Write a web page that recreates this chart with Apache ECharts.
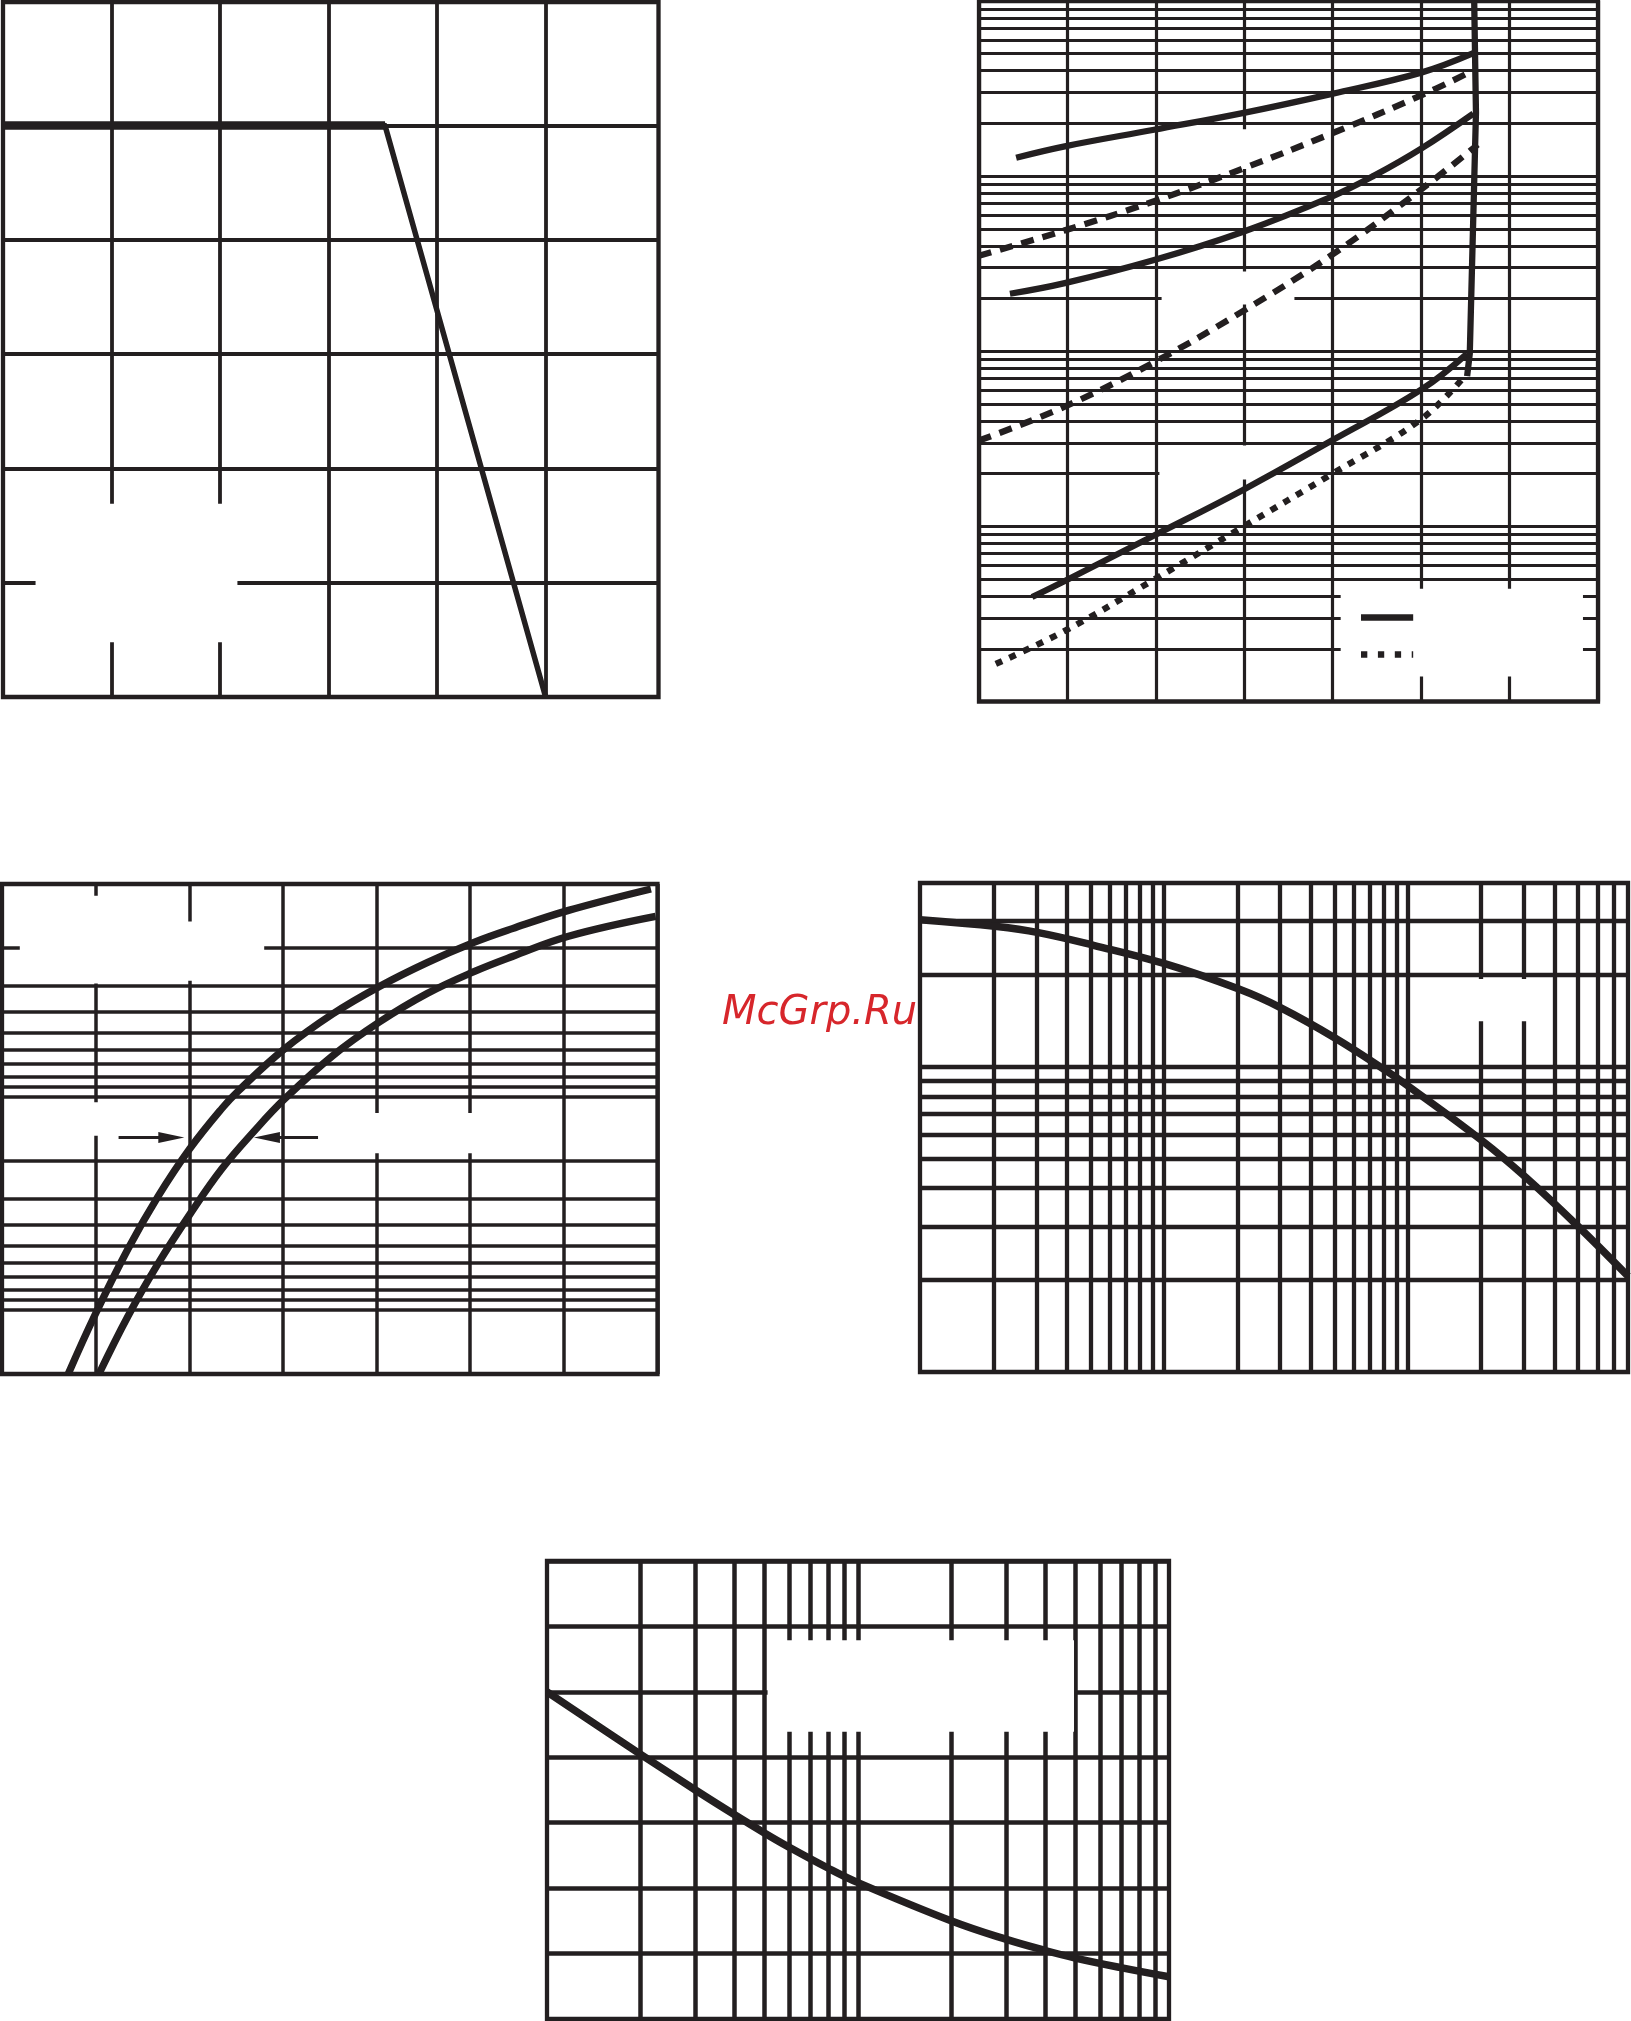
<!DOCTYPE html>
<html>
<head>
<meta charset="utf-8">
<script src="https://cdn.jsdelivr.net/npm/echarts@6/dist/echarts.min.js"></script>
<style>html,body{margin:0;padding:0;background:#fff}#c{width:1631px;height:2021px}</style>
</head>
<body>
<div id="c"></div>
<script>
// ---------------- DATA ----------------
// Chart 1 (top-left): linear x 0..151, linear y 0..60.8
const c1Curve  = [[0, 50], [88, 50], [125, 0]];
const c1XLines = [25, 50, 75, 100, 125];
const c1YLines = [10, 20, 30, 40, 50];

// Chart 2 (top-right): linear x 0..7, log y 1..10000
const c2Solid1  = [[0.42, 1274], [0.97, 1480], [1.98, 1840], [2.98, 2290], [3.99, 2950], [5.0, 3900], [5.59, 5035]];
const c2Dashed1 = [[0, 351], [0.97, 490], [1.98, 719], [2.98, 1102], [3.99, 1754], [5.0, 2891], [5.5, 3811]];
const c2Solid2  = [[0.35, 213], [0.97, 245], [1.98, 332], [2.98, 480], [3.99, 764], [4.47, 1007], [5.0, 1435], [5.59, 2275]];
const c2Dashed2 = [[0, 30.9], [0.97, 48.3], [1.98, 86.5], [2.98, 169], [3.99, 355], [5.0, 839], [5.64, 1514]];
const c2Solid3  = [[0.6, 3.95], [0.97, 4.88], [1.98, 8.87], [2.98, 16.1], [3.99, 30.9], [5.0, 60.3], [5.52, 97]];
const c2Dotted  = [[0.19, 1.64], [0.97, 2.53], [1.98, 4.97], [2.98, 9.91], [3.99, 19.9], [5.0, 40.9], [5.5, 72.8]];
const c2Limit   = [[5.60, 10000], [5.62, 2300], [5.55, 97], [5.52, 72]];
const c2YLines  = [2,3,4,5,6,7,8,9,10,20,30,40,50,60,70,80,90,100,200,300,400,500,600,700,800,900,1000,2000,3000,4000,5000,6000,7000,8000,9000];

// Chart 3 (middle-left): linear x 0..7, inverted log y 1..200
const c3CurveA = [[0.707, 200], [0.99, 106.3], [1.345, 51.8], [1.665, 29.4], [2.006, 17.5], [2.35, 11.3], [2.53, 9.31], [3.01, 5.98], [3.53, 4.08], [4.03, 3.03], [4.54, 2.34], [5.04, 1.88], [5.45, 1.62], [6.05, 1.33], [6.93, 1.055]];
const c3CurveB = [[1.035, 200], [1.345, 107], [1.665, 60.8], [2.006, 35.6], [2.35, 21.7], [2.71, 14.2], [3.01, 10.3], [3.53, 6.41], [4.03, 4.45], [4.54, 3.27], [5.04, 2.58], [5.45, 2.19], [6.05, 1.76], [6.98, 1.42]];
const c3YLines = [2,3,4,5,6,7,8,9,10,20,30,40,50,60,70,80,90,100];

// Chart 4 (middle-right): log x 1..800, log y 1..40
const c4Curve  = [[1, 30.3], [2.07, 28.8], [3.06, 27.5], [5.15, 25.0], [10, 21.8], [20.3, 17.97], [30.2, 15.6], [50.1, 12.45], [82.6, 9.64], [100, 8.67], [201, 5.74], [303, 4.36], [493, 3.03], [800, 2.06]];
const c4XLines = [2,3,4,5,6,7,8,9,10,20,30,40,50,60,70,80,90,100,200,300,400,500,600,700];
const c4YLines = [2,3,4,5,6,7,8,9,10,20,30];

// Chart 5 (bottom): log x 1..100, linear y 0..7
const c5Curve  = [[1, 5.0], [2, 4.046], [3, 3.5], [4, 3.125], [5, 2.844], [6, 2.627], [8, 2.308], [10, 2.085], [20, 1.498], [30, 1.216], [40, 1.047], [50, 0.931], [70, 0.785], [100, 0.645]];
const c5XLines = [2,3,4,5,6,7,8,9,10,20,30,40,50,60,70,80,90];

// ---------------- LAYOUT / STYLE ----------------
const INK = '#231f20';
// blank (white) areas where the original labels were removed: [x1, x2, y1, y2] in data units
const c1Masks = [[7.5, 54, 4.8, 16.9]];
const c2Masks = [[4.09, 6.83, 1.39, 4.4], [2.75, 3.25, 1100, 1850], [2.065, 3.567, 185, 285], [2.04, 3.30, 18.5, 29]];
const c3Masks = [[0.19, 2.80, 1.50, 2.85], [0.9, 1.1, 1.136, 2.93], [0.85, 1.15, 10.6, 15.2], [3.6, 5.5, 11.9, 18.4]];
const c4Masks = [[165, 346, 14.1, 19.4]];
const c5Masks = [[5.12, 49.5, 4.39, 5.79]];

function grid(left, top, width, height) {
  return {left, top, width, height, show: true, borderColor: INK, borderWidth: 4.3,
    backgroundColor: 'rgba(0,0,0,0)', containLabel: false, outerBoundsMode: 'none'};
}
const hidden = {axisLine: {show: false}, axisTick: {show: false}, axisLabel: {show: false}};
function valAxis(gi, min, max, interval, lw) {
  return Object.assign({gridIndex: gi, type: 'value', min, max, interval,
    splitLine: {show: lw > 0, lineStyle: {color: INK, width: lw, type: 'solid'}}}, hidden);
}
function logAxis(gi, min, max, inverse) {
  return Object.assign({gridIndex: gi, type: 'log', logBase: 10, min, max, inverse: !!inverse,
    splitLine: {show: false}}, hidden);
}
function lineSeries(gi, data, width, extra) {
  return Object.assign({type: 'line', xAxisIndex: gi, yAxisIndex: gi, data,
    showSymbol: false, symbol: 'none', silent: true, animation: false, z: 5, clip: true,
    lineStyle: {color: INK, width, type: 'solid', cap: 'butt', join: 'round'}}, extra || {});
}
function gridLines(xVals, yVals, width) {
  return {silent: true, symbol: ['none', 'none'], label: {show: false}, emphasis: {disabled: true},
    lineStyle: {color: INK, width, type: 'solid'}, z: 1, animation: false,
    data: xVals.map(v => ({xAxis: v})).concat(yVals.map(v => ({yAxis: v})))};
}
function maskAreas(list) {
  return {silent: true, itemStyle: {color: '#ffffff', opacity: 1}, label: {show: false},
    emphasis: {disabled: true}, z: 2, animation: false,
    data: list.map(m => [{xAxis: m[0], yAxis: m[2]}, {xAxis: m[1], yAxis: m[3]}])};
}
function segMarks(segs, style) {
  return {silent: true, symbol: ['none', 'none'], label: {show: false}, emphasis: {disabled: true},
    lineStyle: style, z: 6, animation: false, data: segs};
}
const SM = {smooth: 0.4};
const dash = (w, arr) => ({color: INK, width: w, type: arr, cap: 'butt', join: 'round'});

const option = {
  backgroundColor: '#ffffff',
  animation: false,
  grid: [
    grid(3, 2, 655.5, 695),
    grid(979, 1, 619, 700.5),
    grid(2, 884, 655.5, 490),
    grid(920, 883, 708, 489),
    grid(547, 1561, 622, 458)
  ],
  xAxis: [
    valAxis(0, 0, 151, 25, 0),
    valAxis(1, 0, 7, 1, 3.2),
    valAxis(2, 0, 7, 1, 3.5),
    logAxis(3, 1, 800),
    logAxis(4, 1, 100)
  ],
  yAxis: [
    valAxis(0, 0, 60.8, 10, 0),
    logAxis(1, 1, 10000),
    logAxis(2, 1, 200, true),
    logAxis(3, 1, 40),
    valAxis(4, 0, 7, 1, 4.5)
  ],
  series: [
    // chart 1
    lineSeries(0, c1Curve, 5.5, {markLine: gridLines(c1XLines, c1YLines, 3.8), markArea: maskAreas(c1Masks)}),
    lineSeries(0, c1Curve.slice(0, 2), 8.5),
    // chart 2
    lineSeries(1, c2Solid1, 6.3, Object.assign({markLine: gridLines([], c2YLines, 3.2), markArea: maskAreas(c2Masks)}, SM)),
    lineSeries(1, c2Dashed1, 6.3, Object.assign({lineStyle: dash(6.3, [13, 9])}, SM)),
    lineSeries(1, c2Solid2, 6.3, Object.assign({
      markLine: segMarks([[{coord: [4.32, 3.04]}, {coord: [4.91, 3.04]}]], {color: INK, width: 6.5, type: 'solid'})}, SM)),
    lineSeries(1, c2Dashed2, 6.3, Object.assign({lineStyle: dash(6.3, [13, 9])}, SM)),
    lineSeries(1, c2Solid3, 6.3, SM),
    lineSeries(1, c2Dotted, 6.3, Object.assign({lineStyle: dash(6.3, [7, 8]),
      markLine: segMarks([[{coord: [4.32, 1.86]}, {coord: [4.91, 1.86]}]], {color: INK, width: 6.5, type: [6.3, 10.6]})}, SM)),
    lineSeries(1, c2Limit, 6.3),
    // chart 3
    lineSeries(2, c3CurveA, 7.3, Object.assign({markLine: gridLines([], c3YLines, 3.5), markArea: maskAreas(c3Masks)}, SM)),
    lineSeries(2, c3CurveB, 7.3, Object.assign({
      markLine: segMarks([
        [{coord: [1.245, 15.5], symbol: 'none'}, {coord: [1.808, 15.5], symbol: 'triangle', symbolSize: [11, 26]}],
        [{coord: [3.375, 15.5], symbol: 'none'}, {coord: [2.829, 15.5], symbol: 'triangle', symbolSize: [11, 26]}]
      ], {color: INK, width: 3, type: 'solid'})}, SM)),
    // chart 4
    lineSeries(3, c4Curve, 7.5, Object.assign({markLine: gridLines(c4XLines, c4YLines, 4.3), markArea: maskAreas(c4Masks)}, SM)),
    // chart 5
    lineSeries(4, c5Curve, 7.5, Object.assign({markLine: gridLines(c5XLines, [], 4.5), markArea: maskAreas(c5Masks)}, SM))
  ],
  graphic: [{
    type: 'text', x: 722, y: 1014, z: 100, silent: true,
    style: {text: 'McGrp.Ru', fontFamily: '"DejaVu Sans", sans-serif', fontSize: 40, fontStyle: 'italic',
      fill: '#d7262b', verticalAlign: 'middle', align: 'left'}
  }]
};

const chart = echarts.init(document.getElementById('c'), null, {renderer: 'canvas', width: 1631, height: 2021});
chart.setOption(option);
</script>
</body>
</html>
